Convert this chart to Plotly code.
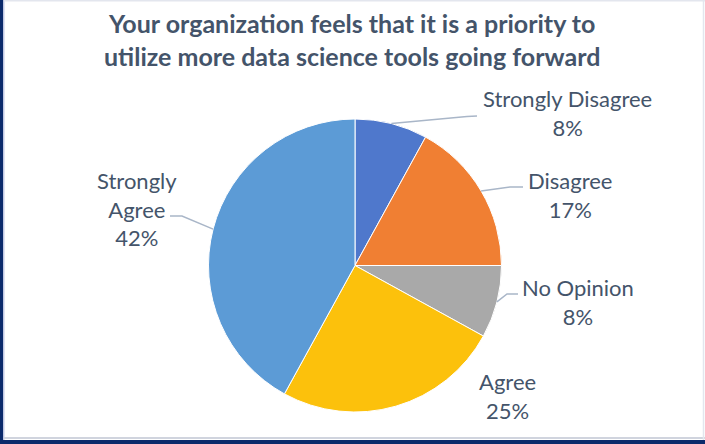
import math
import plotly.graph_objects as go

# ---- data ----
categories = ["Strongly Disagree", "Disagree", "No Opinion", "Agree", "Strongly Agree"]
values = [8, 17, 8, 25, 42]
colors = ["#4F78CC", "#F07F33", "#A9A9A9", "#FCC10C", "#5C9BD6"]
title_text = "Your organization feels that it is a priority to<br>utilize more data science tools going forward"

# ---- layout constants (pixels) ----
W, H = 705, 444
CX, CY, R = 355, 265.5, 146.5
TEXT_COLOR = "#44546A"
LEADER_COLOR = "#A9B6C8"
FONT = "Lato"
LABEL_SIZE = 22

# label placement per slice: text centre, leader elbow, leader end (None = no leader)
label_pos = [(567, 113), (570, 195), (578, 302), (507, 396), (137, 209)]
leader_elbow = [(467, 116.5), (510, 187), (507, 294), None, (182, 216)]
leader_end = [(477, 116), (523, 187), (518, 294), None, (170, 216)]


def px(x):
    return x / W


def py(y):
    return (H - y) / H


fig = go.Figure()
fig.add_trace(go.Pie(
    labels=categories,
    values=values,
    sort=False,
    direction="clockwise",
    rotation=0,
    marker=dict(colors=colors, line=dict(color="white", width=1)),
    textinfo="none",
    hoverinfo="label+percent",
    showlegend=False,
    domain=dict(x=[px(CX - R), px(CX + R)], y=[py(CY + R), py(CY - R)]),
))

total = sum(values)
cum = 0
shapes = []
annotations = []
for i, (cat, v) in enumerate(zip(categories, values)):
    mid = (cum + v / 2) / total * 2 * math.pi
    cum += v
    sx = CX + R * math.sin(mid)
    sy = CY - R * math.cos(mid)
    pct = round(v / total * 100)
    lab = cat
    if cat == "Strongly Agree":
        lab = "Strongly<br>Agree"
    tx, ty = label_pos[i]
    annotations.append(dict(
        x=px(tx), y=py(ty), xref="paper", yref="paper",
        text=f"{lab}<br>{pct}%", showarrow=False,
        xanchor="center", yanchor="middle", align="center",
        font=dict(family=FONT, size=LABEL_SIZE, color=TEXT_COLOR),
    ))
    if leader_end[i] is not None:
        ex, ey = leader_elbow[i]
        fx, fy = leader_end[i]
        shapes.append(dict(
            type="path", xref="paper", yref="paper",
            path=f"M {px(sx)} {py(sy)} L {px(ex)} {py(ey)} L {px(fx)} {py(fy)}",
            line=dict(color=LEADER_COLOR, width=1.5),
        ))

annotations.append(dict(
    x=px(352), y=py(40), xref="paper", yref="paper",
    text=f"<b>{title_text}</b>", showarrow=False,
    xanchor="center", yanchor="middle", align="center",
    font=dict(family=FONT, size=25, color=TEXT_COLOR),
))

# frame
shapes += [
    dict(type="rect", xref="paper", yref="paper", x0=0, x1=px(3.5), y0=0, y1=1,
         fillcolor="#0B2A6B", line=dict(width=0), layer="above"),
    dict(type="rect", xref="paper", yref="paper", x0=0, x1=1, y0=0, y1=py(440),
         fillcolor="#0B2A6B", line=dict(width=0), layer="above"),
    dict(type="line", xref="paper", yref="paper", x0=px(4), x1=px(4), y0=py(440), y1=1,
         line=dict(color="#D6DAF0", width=1.5)),
    dict(type="line", xref="paper", yref="paper", x0=px(4), x1=1, y0=py(438), y1=py(438),
         line=dict(color="#D0D4DE", width=2)),
    dict(type="line", xref="paper", yref="paper", x0=px(4), x1=1, y0=py(0.8), y1=py(0.8),
         line=dict(color="#E3E6EE", width=1.5)),
    dict(type="line", xref="paper", yref="paper", x0=px(703.5), x1=px(703.5), y0=py(440), y1=1,
         line=dict(color="#E3E6EE", width=1.5)),
]

fig.update_layout(
    width=W, height=H,
    margin=dict(l=0, r=0, t=0, b=0),
    paper_bgcolor="white", plot_bgcolor="white",
    shapes=shapes, annotations=annotations,
)
fig.write_html("out.html", config={"displayModeBar": False},
               post_script="document.body.style.margin='0px';")
